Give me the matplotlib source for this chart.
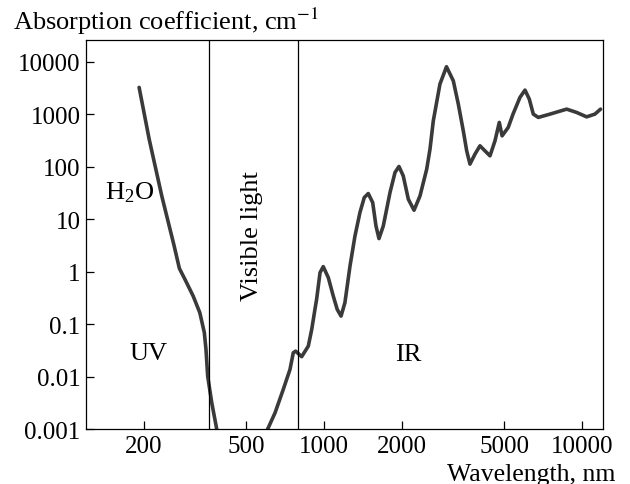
import numpy as np
import matplotlib.pyplot as plt

plt.rcParams['font.family'] = 'Liberation Serif'
plt.rcParams['mathtext.fontset'] = 'stix'

# water absorption spectrum (nm, cm^-1)
wavelength = [192, 210, 235, 262, 275, 289, 311, 330, 343.6, 348.7, 354, 367, 384,
              400, 450, 520, 570, 605, 646, 695, 738, 760, 776, 819, 869, 896, 922,
              936, 965, 993, 1039, 1086, 1125, 1164, 1205, 1261, 1318, 1378, 1432,
              1484, 1544, 1590, 1633, 1697, 1802, 1884, 1952, 2028, 2122, 2233, 2355,
              2500, 2575, 2652, 2814, 2983, 3170, 3315, 3466, 3573, 3679, 3846, 4022,
              4207, 4398, 4599, 4779, 4900, 5176, 5400, 5748, 6012, 6247, 6474, 6769,
              7516, 8720, 9530, 10420, 11220, 11800]
absorption = [3245, 335, 27.7, 3.2, 1.15, 0.713, 0.342, 0.165, 0.0686, 0.0329, 0.0102,
              0.0032, 0.00098, 0.0003, 0.0001, 0.00015, 0.0005, 0.001, 0.00204, 0.00568,
              0.01365, 0.0284, 0.0305, 0.0239, 0.038, 0.079, 0.19, 0.296, 0.957, 1.245,
              0.768, 0.342, 0.19, 0.142, 0.256, 1.28, 4.77, 13.4, 25.8, 30.8, 20.7, 7.4,
              4.26, 7.4, 32.2, 77.4, 101, 66.7, 24, 14.8, 27.7, 89.6, 216, 748, 3753,
              8035, 4340, 1560, 482, 200, 112, 173, 250, 200, 161, 311, 698, 387, 560,
              1000, 2094, 2884, 1941, 1005, 869, 1005, 1250, 1081, 891, 1005, 1250]

xticks = [200, 500, 1000, 2000, 5000, 10000]
yticks = [0.001, 0.01, 0.1, 1, 10, 100, 1000, 10000]
ytick_labels = ['0.001', '0.01', '0.1', '1', '10', '100', '1000', '10000']
bounds = [358, 791]  # UV / visible / IR borders

fig = plt.figure(figsize=(6.3, 4.85), dpi=100)
ax = fig.add_axes([0.1365, 0.1134, 0.8205, 0.8021])

ax.plot(wavelength, absorption, color='#3a3a3a', lw=2.6,
        solid_capstyle='round', solid_joinstyle='round')
for b in bounds:
    ax.axvline(b, color='black', lw=0.9)

ax.set_xscale('log')
ax.set_yscale('log')
ax.set_xlim(119.5, 12050)
ax.set_ylim(0.001, 26000)

ax.set_xticks(xticks)
ax.set_xticklabels([str(t) for t in xticks])
ax.set_yticks(yticks)
ax.set_yticklabels(ytick_labels)
ax.minorticks_off()
ax.tick_params(direction='in', length=6, width=0.9, labelsize=18, pad=4)
for s in ax.spines.values():
    s.set_linewidth(0.9)

fig.text(130 / 630, 1 - 193 / 485, 'H$_\\mathregular{2}$O', fontsize=19, ha='center', va='center')
fig.text(148 / 630, 1 - 354 / 485, 'UV', fontsize=19, ha='center', va='center')
fig.text(408 / 630, 1 - 355 / 485, 'IR', fontsize=19, ha='center', va='center')
fig.text(252 / 630, 1 - 236 / 485, 'Visible light', fontsize=19, ha='center',
         va='center', rotation=90)

fig.text(13 / 630, 1 - 21 / 485, 'Absorption coefficient, cm$^{-1}$', fontsize=19,
         ha='left', va='center')
fig.text(615 / 630, 1 - 475 / 485, 'Wavelength, nm', fontsize=18.5, ha='right', va='center')

fig.savefig('out.png', dpi=100)
